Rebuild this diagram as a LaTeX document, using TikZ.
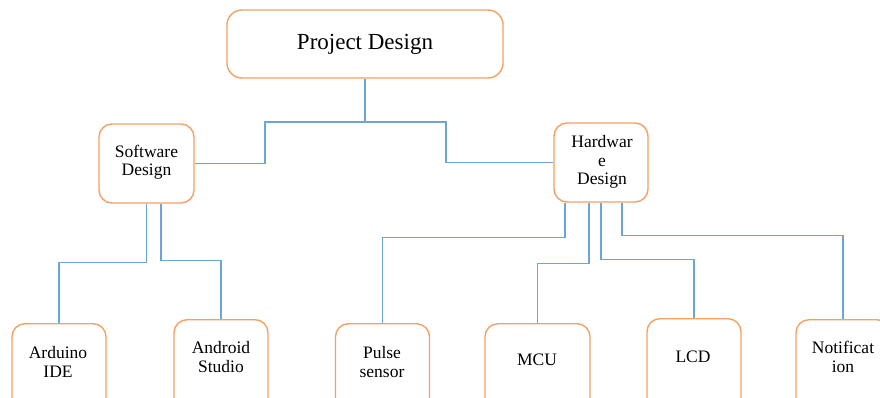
\documentclass[tikz,border=0pt]{standalone}
\usepackage{fontspec}
\setmainfont{Liberation Serif}
\definecolor{boxorange}{RGB}{245,160,100}
\definecolor{wireblue}{RGB}{110,165,215}
\begin{document}
\begin{tikzpicture}[x=1pt,y=-1pt,
  box/.style={draw=boxorange, line width=1.4pt, rounded corners=13pt, fill=white, inner sep=0pt},
  leaf/.style={box, anchor=north, minimum width=94pt, minimum height=110pt},
  wire/.style={draw=wireblue, line width=1.2pt},
  lbl/.style={font=\fontsize{17.5}{18.5}\selectfont, align=center, inner sep=0pt}]
\useasboundingbox (0,0) rectangle (880,397);
\clip (0,0) rectangle (880,397);

% top level
\node[box, rounded corners=15pt, minimum width=276pt, minimum height=68pt,
      font=\fontsize{23}{25}\selectfont] (pd) at (365,44) {Project Design};

% second level
\node[box, minimum width=95pt, minimum height=79pt] (sd) at (146.5,163.5) {};
\node[lbl] (sdtxt) at (146.5,162) {Software\\Design};
\node[box, minimum width=94pt, minimum height=79pt] (hd) at (601,162.5) {};
\node[lbl] (hdtxt) at (602,162) {Hardwar\\e\\Design};

% leaves
\node[leaf] (ard) at (59,323) {};
\node[lbl] (ardtxt) at (58,362) {Arduino\\IDE};
\node[leaf] (adr) at (221,319) {};
\node[lbl] (adrtxt) at (221,357) {Android\\Studio};
\node[leaf] (pls) at (382.5,323) {};
\node[lbl] (plstxt) at (382,362) {Pulse\\sensor};
\node[leaf, minimum width=105pt] (mcu) at (537.5,323) {};
\node[lbl] (mcutxt) at (537,360) {MCU};
\node[leaf] (lcd) at (694,318) {};
\node[lbl] (lcdtxt) at (693,357) {LCD};
\node[leaf] (ntf) at (843,319) {};
\node[lbl] (ntftxt) at (843,357) {Notificat\\ion};

% connectors
\draw[wire] (pd.south) -- (365,122);
\draw[wire] (sd.east) -| (265,122) -- (446,122) |- (hd.west);

\draw[wire] (sd.south) -- ++(0,59) -| (ard.north);
\draw[wire] ([xshift=14.5pt]sd.south) -- ++(0,57) -| (adr.north);

\draw[wire] ([xshift=-36pt]hd.south) -- ++(0,35) -| (pls.north);
\draw[wire] ([xshift=-12pt]hd.south) -- ++(0,61) -| (mcu.north);
\draw[wire] (hd.south) -- ++(0,57) -| (lcd.north);
\draw[wire] ([xshift=21pt]hd.south) -- ++(0,33) -| (ntf.north);
\end{tikzpicture}
\end{document}
